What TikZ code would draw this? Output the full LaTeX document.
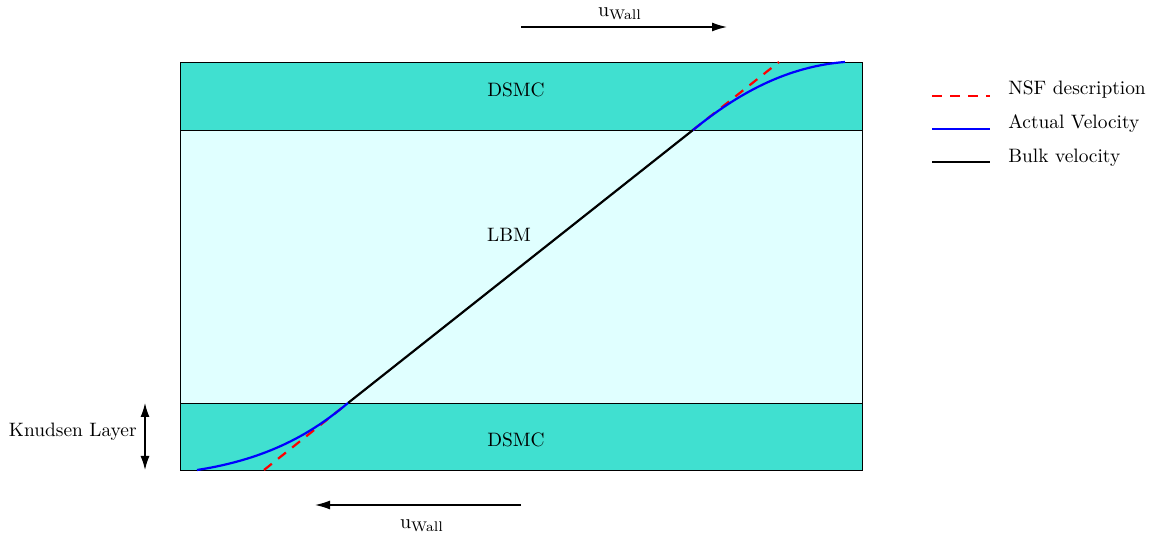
\documentclass[tikz,border=0pt]{standalone}
\usetikzlibrary{arrows.meta}
\definecolor{turq}{RGB}{64,224,208}
\definecolor{lcyan}{RGB}{224,255,255}
\tikzset{
  region/.style={draw=black, line width=0.4pt},
  curve/.style={line width=1.1pt},
  wallarrow/.style={-{Latex[length=7.5pt,width=4.5pt]}, line width=0.7pt},
  lbl/.style={inner sep=1pt, font=\fontsize{9.7}{12}\selectfont},
}
\begin{document}
\begin{tikzpicture}[x=0.5pt,y=-0.5pt]
\useasboundingbox (0,0) rectangle (1151,533);
% regions
\fill[lcyan] (180,130) rectangle (862,403);
\fill[turq] (180,62) rectangle (862,130);
\fill[turq] (180,403) rectangle (862,470);
\draw[region] (180,62) rectangle (862,470);
\draw[region] (180,130) -- (862,130);
\draw[region] (180,403) -- (862,403);
\node[lbl] (dsmct) at (516,90) {DSMC};
\node[lbl] (lbm) at (509,235) {LBM};
\node[lbl] (dsmcb) at (516,440) {DSMC};
% key points
\coordinate (pb) at (348,403);
\coordinate (pt) at (693,130);
\coordinate (nb) at (264,470);
\coordinate (nt) at (779,62);
\coordinate (ab) at (197,470);
\coordinate (at) at (845,62);
% curves
\draw[curve, red, dashed, dash pattern=on 5pt off 4pt] (nb) -- (pb);
\draw[curve, red, dashed, dash pattern=on 5pt off 4pt] (pt) -- (nt);
\draw[curve, black] (pb) -- (pt);
\draw[curve, blue] (ab) .. controls (275,458) and (318,428) .. (pb);
\draw[curve, blue] (pt) .. controls (730,100) and (780,67) .. (at);
% wall arrows
\coordinate (tws) at (521,27);
\coordinate (twe) at (727,27);
\draw[wallarrow] (tws) -- (twe);
\node[lbl] (utop) at (620,14) {$\mathrm{u}_{\mathrm{Wall}}$};
\coordinate (bws) at (521,505);
\coordinate (bwe) at (315,505);
\draw[wallarrow] (bws) -- (bwe);
\node[lbl] (ubot) at (422,526) {$\mathrm{u}_{\mathrm{Wall}}$};
% Knudsen layer
\coordinate (ks) at (145,403);
\coordinate (ke) at (145,470);
\draw[{Latex[length=7pt,width=4.5pt]}-{Latex[length=7pt,width=4.5pt]}, line width=0.7pt] (ks) -- (ke);
\node[lbl, anchor=east] (kn) at (139,432) {Knudsen Layer};
% legend
\coordinate (l1a) at (932,96); \coordinate (l1b) at (990,96);
\coordinate (l2a) at (932,129); \coordinate (l2b) at (990,129);
\coordinate (l3a) at (932,162); \coordinate (l3b) at (990,162);
\draw[curve, red, dashed, dash pattern=on 5pt off 4pt] (l1a) -- (l1b);
\draw[curve, blue] (l2a) -- (l2b);
\draw[curve, black] (l3a) -- (l3b);
\node[lbl, anchor=west] (t1) at (1006,90) {NSF description};
\node[lbl, anchor=west] (t2) at (1006,124) {Actual Velocity};
\node[lbl, anchor=west] (t3) at (1006,158) {Bulk velocity};
\end{tikzpicture}
\end{document}
